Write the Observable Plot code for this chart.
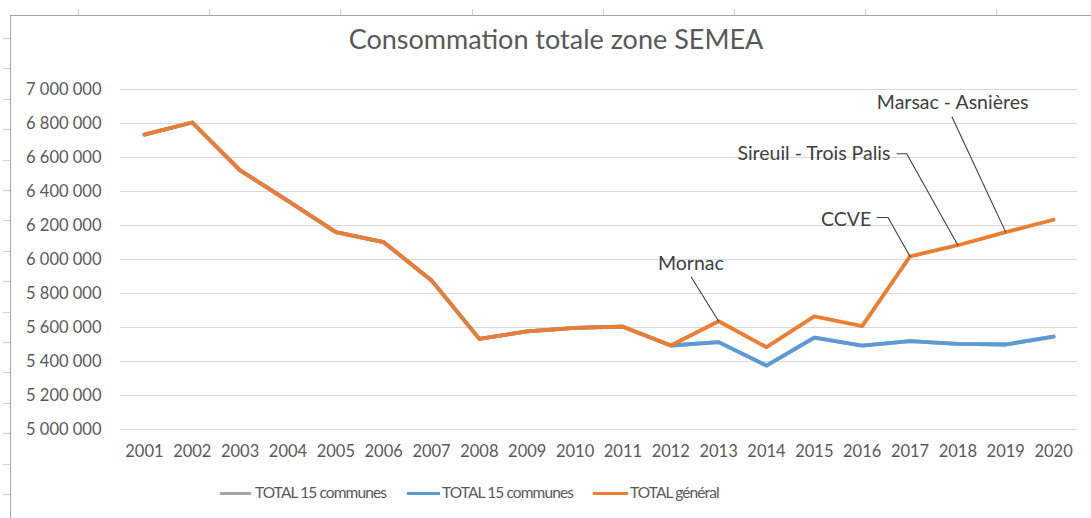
<!DOCTYPE html>
<html>
<head>
<meta charset="utf-8">
<script src="https://cdn.jsdelivr.net/npm/d3@7"></script>
<script src="https://cdn.jsdelivr.net/npm/@observablehq/plot@0.6"></script>
<style>
  html, body { margin: 0; padding: 0; background: #fff; overflow: hidden; }
  #wrap { position: relative; width: 1091px; height: 518px; font-family: Lato, "Open Sans", sans-serif; }
  #frameTop { position: absolute; left: 11px; top: 15px; width: 1080px; height: 0; border-top: 1.5px solid #a6a6a6; }
  #frameLeft { position: absolute; left: 10px; top: 15px; width: 0; height: 503px; border-left: 1.5px solid #a6a6a6; }
  #ticksTop { position: absolute; left: 78px; top: 9px; width: 1013px; height: 6px;
    background: repeating-linear-gradient(to right, #cfcfcf 0 1px, transparent 1px 131.2px); }
  #ticksLeft { position: absolute; left: 3px; top: 38px; width: 7px; height: 480px;
    background: repeating-linear-gradient(to bottom, #cfcfcf 0 1px, transparent 1px 30.4px); }
  #chart { position: absolute; left: 0; top: 0; }
  #title { position: absolute; left: 556px; top: 22.5px; transform: translateX(-50%); white-space: nowrap;
    font-size: 27px; line-height: 1.2; color: #595959; }
  .leg { position: absolute; top: 483px; font-size: 15.5px; line-height: 1.2; color: #595959; letter-spacing: -0.9px; white-space: nowrap; }
  .sw { position: absolute; top: 491.5px; height: 3.3px; }
</style>
</head>
<body>
<div id="wrap">
  <div id="ticksTop"></div>
  <div id="ticksLeft"></div>
  <div id="frameTop"></div>
  <div id="frameLeft"></div>
  <div id="chart"></div>
  <div id="title">Consommation totale zone SEMEA</div>
  <div class="sw" style="left:220px;width:31px;background:#A5A5A5"></div>
  <div class="leg" style="left:255px">TOTAL 15 communes</div>
  <div class="sw" style="left:407px;width:33px;background:#5B9BD5"></div>
  <div class="leg" style="left:442px">TOTAL 15 communes</div>
  <div class="sw" style="left:593px;width:35px;background:#ED7D31"></div>
  <div class="leg" style="left:630px">TOTAL général</div>
</div>
<script>
// ---- data ----
const years = [2001, 2002, 2003, 2004, 2005, 2006, 2007, 2008, 2009, 2010,
               2011, 2012, 2013, 2014, 2015, 2016, 2017, 2018, 2019, 2020];
const totalGeneral = [6735000, 6806000, 6524000, 6345000, 6161000, 6102000, 5877000, 5533000, 5577000, 5598000,
                      5605000, 5494000, 5637000, 5484000, 5665000, 5608000, 6018000, 6084000, 6161000, 6234000];
const total15Blue = [6735000, 6806000, 6524000, 6345000, 6161000, 6102000, 5877000, 5533000, 5577000, 5598000,
                     5605000, 5494000, 5514000, 5376000, 5540000, 5494000, 5520000, 5504000, 5500000, 5547000];
const total15Grey = [6735000, 6806000, 6524000, 6345000, 6161000, 6102000, 5877000, 5533000, 5577000, 5598000,
                     5605000, 5494000, 5514000, 5376000, 5540000, 5494000, 5520000, 5504000, 5500000, 5547000];
const yTicks = [5000000, 5200000, 5400000, 5600000, 5800000, 6000000, 6200000, 6400000, 6600000, 6800000, 7000000];

// annotations (data units)
const annotLabels = ["Mornac", "CCVE", "Sireuil - Trois Palis", "Marsac - Asnières"];
const annotYears = [2013, 2017, 2018, 2019];
const annotTextX = [2012.42, 2016.19, 2016.59, 2017.89];
const annotTextY = [5975300, 6235900, 6622700, 6922400];
const annotAnchor = ["middle", "end", "end", "middle"];
const annotLeaderStarts = [
  [[2012.43, 5895900]],
  [[2016.31, 6247100], [2016.54, 6247100]],
  [[2016.73, 6622000], [2016.93, 6622000]],
  [[2017.88, 6837100]]
];

// ---- build tables ----
const toRows = vals => years.map((yr, i) => ({year: yr, value: vals[i]}));
const greyRows = toRows(total15Grey);
const blueRows = toRows(total15Blue);
const orangeRows = toRows(totalGeneral);

const annotRows = annotLabels.map((l, i) => ({label: l, x: annotTextX[i], y: annotTextY[i], anchor: annotAnchor[i]}));
const leaderRows = annotLabels.flatMap((l, i) => [
  ...annotLeaderStarts[i].map(([x, y]) => ({label: l, x, y})),
  {label: l, x: annotYears[i], y: totalGeneral[years.indexOf(annotYears[i])]}
]);

const fmt = d => d3.format(",")(d).replace(/,/g, " ");
const lineOpts = {x: "year", y: "value", strokeWidth: 3.8, strokeLinejoin: "round", strokeLinecap: "round"};

const chart = Plot.plot({
  width: 1091,
  height: 470,
  marginTop: 89,
  marginBottom: 41,
  marginLeft: 120,
  marginRight: 14,
  style: {background: "transparent", overflow: "visible", fontFamily: "Lato, 'Open Sans', sans-serif", fontSize: "16.5px", color: "#595959"},
  x: {type: "linear", domain: [2000.5, 2020.5]},
  y: {domain: [5000000, 7000000]},
  marks: [
    Plot.ruleY(yTicks, {stroke: "#d9d9d9", strokeWidth: 1.2}),
    Plot.axisY({ticks: yTicks, tickSize: 0, tickPadding: 19, tickFormat: fmt, label: null}),
    Plot.axisX({ticks: years, tickSize: 0, tickPadding: 16, tickFormat: d => String(d), label: null}),
    Plot.line(greyRows, {...lineOpts, stroke: "#A5A5A5"}),
    Plot.line(blueRows, {...lineOpts, stroke: "#5B9BD5"}),
    Plot.line(orangeRows, {...lineOpts, stroke: "#ED7D31"}),
    Plot.line(leaderRows, {x: "x", y: "y", z: "label", stroke: "#404040", strokeWidth: 1.1}),
    Plot.text(annotRows.filter(d => d.anchor === "middle"), {x: "x", y: "y", text: "label", textAnchor: "middle", lineAnchor: "middle", fill: "#404040", fontSize: 19.5}),
    Plot.text(annotRows.filter(d => d.anchor === "end"), {x: "x", y: "y", text: "label", textAnchor: "end", lineAnchor: "middle", fill: "#404040", fontSize: 19.5})
  ]
});
document.getElementById("chart").appendChild(chart);
</script>
</body>
</html>
